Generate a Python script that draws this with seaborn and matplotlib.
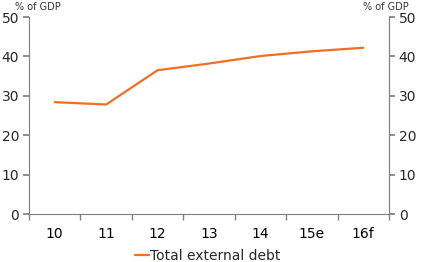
import matplotlib
matplotlib.use("Agg")
import matplotlib.pyplot as plt
import seaborn as sns
import pandas as pd
from matplotlib.ticker import FixedLocator, NullFormatter

categories = ["10", "11", "12", "13", "14", "15e", "16f"]
debt = [28.4, 27.8, 36.5, 38.2, 40.1, 41.3, 42.2]
yticks = [0, 10, 20, 30, 40, 50]

sns.set_theme(style="white")
plt.rcParams['font.family'] = ['DejaVu Sans']

df = pd.DataFrame({"year": categories, "Total external debt": debt})

fig = plt.figure(figsize=(4.24, 2.62), dpi=100)
ax = fig.add_axes([0.0684, 0.183, 0.849, 0.752])
sns.lineplot(data=df, x="year", y="Total external debt", ax=ax, color="#F07020",
             linewidth=1.6, label="Total external debt", legend=False, sort=False)

gray = "#808080"
ax.set_xlim(-0.5, 6.5)
ax.set_ylim(0, 50)
ax.set_yticks(yticks)
ax.set_xlabel("")
ax.set_ylabel("")
for s in ["left", "bottom", "right"]:
    ax.spines[s].set_color(gray)
    ax.spines[s].set_linewidth(0.8)
ax.spines["top"].set_visible(False)
ax.xaxis.set_minor_locator(FixedLocator([i - 0.5 for i in range(8)]))
ax.xaxis.set_minor_formatter(NullFormatter())
ax.tick_params(axis="x", which="major", length=0, labelsize=10, pad=9, colors="black")
ax.tick_params(axis="x", which="minor", length=4, color=gray, direction="out", bottom=True)
ax.tick_params(axis="y", length=4, color=gray, direction="out", labelsize=10, left=True, pad=3)
for lab in ax.get_xticklabels():
    lab.set_color("black")

ax2 = ax.twinx()
ax2.set_ylim(0, 50)
ax2.set_yticks(yticks)
ax2.tick_params(axis="y", length=4, color=gray, direction="out", labelsize=10, right=True, pad=3)
for s in ["left", "bottom", "top"]:
    ax2.spines[s].set_visible(False)
ax2.spines["right"].set_color(gray)
ax2.spines["right"].set_linewidth(0.8)

fig.text(0.035, 0.975, "% of GDP", fontsize=7, ha="left", va="center", color="#333333")
fig.text(0.965, 0.975, "% of GDP", fontsize=7, ha="right", va="center", color="#333333")

h, l = ax.get_legend_handles_labels()
fig.legend(h, l, loc="lower center", bbox_to_anchor=(0.49, -0.05), frameon=False,
           fontsize=10, handlelength=1.0, handletextpad=0.1)

fig.savefig("out.png", dpi=100)
